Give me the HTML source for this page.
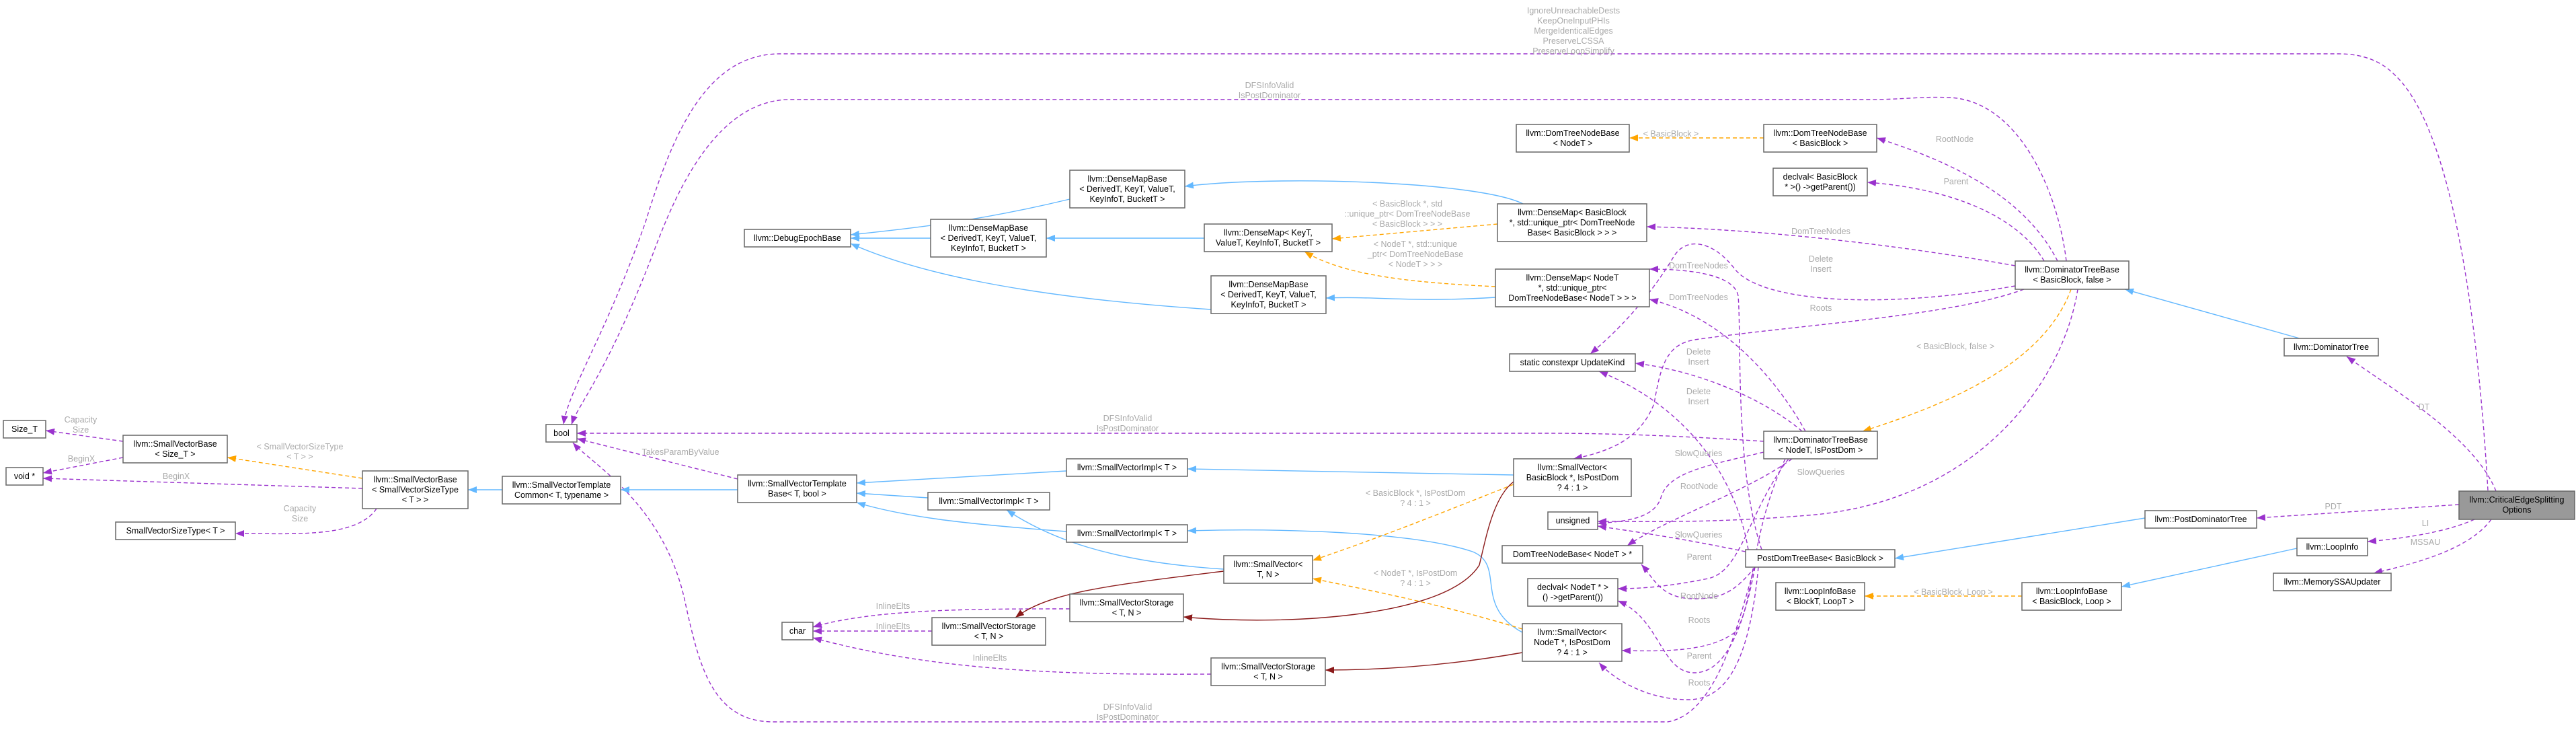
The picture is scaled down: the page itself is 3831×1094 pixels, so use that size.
<!DOCTYPE html>
<html><head><meta charset="utf-8"><style>
html,body{margin:0;padding:0;background:#fff;}
svg{display:block;}
text{font-family:"Liberation Sans",Arial,sans-serif;font-size:12.5px;}
.n rect{fill:#fff;stroke:#666;stroke-width:1.5;}
.n text{fill:#000;text-anchor:middle;}
.l{fill:#aaa;text-anchor:middle;}
.p{fill:none;stroke:#9a32cd;stroke-width:1.4;stroke-dasharray:6,4;}
.b{fill:none;stroke:#63b8ff;stroke-width:1.4;}
.o{fill:none;stroke:#ffa500;stroke-width:1.4;stroke-dasharray:6,4;}
.r{fill:none;stroke:#8b1a1a;stroke-width:1.4;}
</style></head><body>
<svg width="3831" height="1094" viewBox="0 0 3831 1094" xmlns="http://www.w3.org/2000/svg">
<defs>
<marker id="mp" markerUnits="userSpaceOnUse" markerWidth="14" markerHeight="12" refX="13" refY="5" orient="auto"><path d="M0,0 L13,5 L0,10 z" fill="#9a32cd"/></marker>
<marker id="mb" markerUnits="userSpaceOnUse" markerWidth="14" markerHeight="12" refX="13" refY="5" orient="auto"><path d="M0,0 L13,5 L0,10 z" fill="#63b8ff"/></marker>
<marker id="mo" markerUnits="userSpaceOnUse" markerWidth="14" markerHeight="12" refX="13" refY="5" orient="auto"><path d="M0,0 L13,5 L0,10 z" fill="#ffa500"/></marker>
<marker id="mr" markerUnits="userSpaceOnUse" markerWidth="14" markerHeight="12" refX="13" refY="5" orient="auto"><path d="M0,0 L13,5 L0,10 z" fill="#8b1a1a"/></marker>
</defs>

<!-- purple edges -->
<g marker-end="url(#mp)">
<path class="p" d="M3700,729 C3690,560 3660,200 3560,110 Q3530,80 3478,80 L1160,80 C1050,80 1000,200 960,330 C900,500 845,580 838,631"/>
<path class="p" d="M3073,388 C3060,280 3000,150 2900,145 C2860,143 2830,148 2780,148 L1175,148 C1060,148 1000,300 970,380 C900,560 860,600 850,631"/>
<path class="p" d="M2623,656 C2500,648 2400,644 2300,644 L858,644"/>
<path class="p" d="M2610,843 C2590,900 2560,1060 2480,1073 L1150,1073 C1060,1073 1040,990 1020,900 C990,750 880,690 852,658"/>
<path class="p" d="M1097,712 L858,652"/>
<path class="p" d="M183,656 L68,640"/>
<path class="p" d="M183,680 L64,703"/>
<path class="p" d="M539,726 L64,711"/>
<path class="p" d="M560,756 C530,800 440,793 350,793"/>
<path class="p" d="M1591,905 C1450,905 1300,905 1209,932"/>
<path class="p" d="M1386,938 L1209,938"/>
<path class="p" d="M1801,1002 C1600,1003 1400,1000 1209,948"/>
<path class="p" d="M3060,388 C3010,290 2900,240 2791,205"/>
<path class="p" d="M3040,388 C3000,320 2900,280 2777,271"/>
<path class="p" d="M2997,395 C2800,360 2600,340 2449,337"/>
<path class="p" d="M2997,425 C2800,460 2620,450 2580,400 C2550,360 2510,350 2490,380 C2460,430 2420,480 2365,526"/>
<path class="p" d="M3010,430 C2900,470 2700,480 2520,505 C2480,512 2470,540 2460,600 C2440,650 2400,670 2340,682"/>
<path class="p" d="M3090,430 C3070,560 2950,740 2700,765 C2550,778 2450,775 2376,775"/>
<path class="p" d="M2685,641 C2640,560 2560,470 2453,445"/>
<path class="p" d="M2620,817 C2580,700 2590,500 2585,440 C2580,410 2520,400 2453,400"/>
<path class="p" d="M2680,641 C2620,590 2520,550 2432,540"/>
<path class="p" d="M2600,817 C2580,700 2500,600 2378,552"/>
<path class="p" d="M2623,672 C2550,690 2480,700 2470,740 C2460,770 2420,775 2376,778"/>
<path class="p" d="M2665,682 C2600,730 2480,770 2420,811"/>
<path class="p" d="M2660,682 C2600,760 2590,850 2540,860 C2490,870 2450,875 2406,875"/>
<path class="p" d="M2655,682 C2600,800 2610,900 2580,940 C2540,970 2470,968 2412,967"/>
<path class="p" d="M2596,820 C2500,800 2430,790 2376,782"/>
<path class="p" d="M2610,843 C2580,880 2560,890 2520,890 C2470,890 2460,860 2441,839"/>
<path class="p" d="M2610,843 C2590,950 2560,1000 2520,1000 C2470,1000 2470,920 2406,893"/>
<path class="p" d="M2615,843 C2600,1000 2560,1040 2510,1040 C2450,1040 2400,1010 2378,985"/>
<path class="p" d="M3712,730 C3680,650 3560,580 3490,530"/>
<path class="p" d="M3657,750 L3356,770"/>
<path class="p" d="M3680,772 C3640,790 3580,800 3521,805"/>
<path class="p" d="M3705,772 C3670,820 3580,840 3530,852"/>
</g>

<!-- blue edges -->
<g marker-end="url(#mb)">
<path class="b" d="M1591,296 C1450,330 1350,340 1265,349"/>
<path class="b" d="M1384,354 L1265,354"/>
<path class="b" d="M1801,460 C1500,440 1350,400 1265,362"/>
<path class="b" d="M2265,303 C2200,270 1900,260 1762,277"/>
<path class="b" d="M1791,354 L1556,354"/>
<path class="b" d="M2224,442 C2100,450 2050,440 1972,443"/>
<path class="b" d="M747,728 L696,728"/>
<path class="b" d="M1097,728 L923,728"/>
<path class="b" d="M1586,700 L1274,718"/>
<path class="b" d="M1380,740 L1274,733"/>
<path class="b" d="M1586,790 C1450,780 1350,770 1274,747"/>
<path class="b" d="M1820,846 C1650,835 1560,800 1497,758"/>
<path class="b" d="M2251,706 L1766,697"/>
<path class="b" d="M2264,940 C2190,900 2240,840 2190,820 C2100,790 1900,785 1766,789"/>
<path class="b" d="M3420,503 L3160,430"/>
<path class="b" d="M3190,770 L2818,830"/>
<path class="b" d="M3416,815 L3155,872"/>
</g>

<!-- orange edges -->
<g marker-end="url(#mo)">
<path class="o" d="M2623,205 L2423,205"/>
<path class="o" d="M2227,333 L1981,355"/>
<path class="o" d="M2224,426 C2100,420 2000,410 1940,374"/>
<path class="o" d="M3080,430 C3040,540 2900,600 2770,641"/>
<path class="o" d="M539,711 L338,680"/>
<path class="o" d="M2251,720 C2150,760 2050,800 1952,833"/>
<path class="o" d="M2264,935 C2150,900 2050,880 1952,860"/>
<path class="o" d="M3007,886 L2773,886"/>
</g>

<!-- dark red edges -->
<g marker-end="url(#mr)">
<path class="r" d="M1820,849 C1650,870 1560,880 1510,918"/>
<path class="r" d="M2251,716 C2220,740 2210,800 2200,840 C2150,920 1900,930 1760,917"/>
<path class="r" d="M2264,970 C2150,990 2050,996 1971,996"/>
</g>

<!-- edge labels -->
<g class="l">
<text x="2340" y="20">IgnoreUnreachableDests</text>
<text x="2340" y="35">KeepOneInputPHIs</text>
<text x="2340" y="50">MergeIdenticalEdges</text>
<text x="2340" y="65">PreserveLCSSA</text>
<text x="2340" y="80">PreserveLoopSimplify</text>
<text x="1888" y="131">DFSInfoValid</text>
<text x="1888" y="146">IsPostDominator</text>
<text x="1677" y="626">DFSInfoValid</text>
<text x="1677" y="641">IsPostDominator</text>
<text x="1677" y="1055">DFSInfoValid</text>
<text x="1677" y="1070">IsPostDominator</text>
<text x="1012" y="676">TakesParamByValue</text>
<text x="120" y="628">Capacity</text>
<text x="120" y="643">Size</text>
<text x="121" y="686">BeginX</text>
<text x="262" y="712">BeginX</text>
<text x="446" y="760">Capacity</text>
<text x="446" y="775">Size</text>
<text x="446" y="668">&lt; SmallVectorSizeType</text>
<text x="446" y="683">&lt; T &gt; &gt;</text>
<text x="1328" y="905">InlineElts</text>
<text x="1328" y="935">InlineElts</text>
<text x="1472" y="982">InlineElts</text>
<text x="2907" y="211">RootNode</text>
<text x="2909" y="274">Parent</text>
<text x="2708" y="348">DomTreeNodes</text>
<text x="2708" y="389">Delete</text>
<text x="2708" y="404">Insert</text>
<text x="2708" y="462">Roots</text>
<text x="2908" y="519">&lt; BasicBlock, false &gt;</text>
<text x="2526" y="399">DomTreeNodes</text>
<text x="2526" y="446">DomTreeNodes</text>
<text x="2526" y="527">Delete</text>
<text x="2526" y="542">Insert</text>
<text x="2526" y="586">Delete</text>
<text x="2526" y="601">Insert</text>
<text x="2526" y="678">SlowQueries</text>
<text x="2708" y="706">SlowQueries</text>
<text x="2527" y="727">RootNode</text>
<text x="2526" y="799">SlowQueries</text>
<text x="2527" y="832">Parent</text>
<text x="2527" y="890">RootNode</text>
<text x="2527" y="926">Roots</text>
<text x="2527" y="979">Parent</text>
<text x="2527" y="1019">Roots</text>
<text x="2485" y="203">&lt; BasicBlock &gt;</text>
<text x="2093" y="307">&lt; BasicBlock *, std</text>
<text x="2093" y="322">::unique_ptr&lt; DomTreeNodeBase</text>
<text x="2093" y="337">&lt; BasicBlock &gt; &gt; &gt;</text>
<text x="2105" y="367">&lt; NodeT *, std::unique</text>
<text x="2105" y="382">_ptr&lt; DomTreeNodeBase</text>
<text x="2105" y="397">&lt; NodeT &gt; &gt; &gt;</text>
<text x="2105" y="737">&lt; BasicBlock *, IsPostDom</text>
<text x="2105" y="752">? 4 : 1 &gt;</text>
<text x="2105" y="856">&lt; NodeT *, IsPostDom</text>
<text x="2105" y="871">? 4 : 1 &gt;</text>
<text x="2905" y="884">&lt; BasicBlock, Loop &gt;</text>
<text x="3605" y="609">DT</text>
<text x="3470" y="757">PDT</text>
<text x="3607" y="782">LI</text>
<text x="3607" y="810">MSSAU</text>
</g>

<!-- nodes -->
<g class="n">
<rect x="5" y="625" width="63" height="26"/><text x="36.5" y="642">Size_T</text>
<rect x="183" y="647" width="155" height="41"/><text x="260.5" y="664">llvm::SmallVectorBase</text><text x="260.5" y="679">&lt; Size_T &gt;</text>
<rect x="9" y="695" width="55" height="26"/><text x="36.5" y="712">void *</text>
<rect x="539" y="700" width="157" height="56"/><text x="617.5" y="717">llvm::SmallVectorBase</text><text x="617.5" y="732">&lt; SmallVectorSizeType</text><text x="617.5" y="747">&lt; T &gt; &gt;</text>
<rect x="172" y="776" width="178" height="26"/><text x="261" y="793">SmallVectorSizeType&lt; T &gt;</text>
<rect x="747" y="708" width="176" height="41"/><text x="835" y="725">llvm::SmallVectorTemplate</text><text x="835" y="740">Common&lt; T, typename &gt;</text>
<rect x="1097" y="706" width="177" height="41"/><text x="1185.5" y="723">llvm::SmallVectorTemplate</text><text x="1185.5" y="738">Base&lt; T, bool &gt;</text>
<rect x="812" y="631" width="46" height="26"/><text x="835" y="648">bool</text>
<rect x="1163" y="925" width="46" height="26"/><text x="1186" y="942">char</text>
<rect x="1586" y="682" width="180" height="26"/><text x="1676" y="699">llvm::SmallVectorImpl&lt; T &gt;</text>
<rect x="1380" y="732" width="181" height="26"/><text x="1470.5" y="749">llvm::SmallVectorImpl&lt; T &gt;</text>
<rect x="1586" y="780" width="180" height="26"/><text x="1676" y="797">llvm::SmallVectorImpl&lt; T &gt;</text>
<rect x="1820" y="826" width="132" height="41"/><text x="1886" y="843">llvm::SmallVector&lt;</text><text x="1886" y="858">T, N &gt;</text>
<rect x="1591" y="883" width="169" height="41"/><text x="1675.5" y="900">llvm::SmallVectorStorage</text><text x="1675.5" y="915">&lt; T, N &gt;</text>
<rect x="1386" y="918" width="169" height="41"/><text x="1470.5" y="935">llvm::SmallVectorStorage</text><text x="1470.5" y="950">&lt; T, N &gt;</text>
<rect x="1801" y="978" width="170" height="41"/><text x="1886" y="995">llvm::SmallVectorStorage</text><text x="1886" y="1010">&lt; T, N &gt;</text>
<rect x="1107" y="341" width="158" height="26"/><text x="1186" y="358">llvm::DebugEpochBase</text>
<rect x="1591" y="253" width="171" height="56"/><text x="1676.5" y="270">llvm::DenseMapBase</text><text x="1676.5" y="285">&lt; DerivedT, KeyT, ValueT,</text><text x="1676.5" y="300">KeyInfoT, BucketT &gt;</text>
<rect x="1384" y="326" width="172" height="56"/><text x="1470" y="343">llvm::DenseMapBase</text><text x="1470" y="358">&lt; DerivedT, KeyT, ValueT,</text><text x="1470" y="373">KeyInfoT, BucketT &gt;</text>
<rect x="1801" y="410" width="171" height="56"/><text x="1886.5" y="427">llvm::DenseMapBase</text><text x="1886.5" y="442">&lt; DerivedT, KeyT, ValueT,</text><text x="1886.5" y="457">KeyInfoT, BucketT &gt;</text>
<rect x="1791" y="333" width="190" height="41"/><text x="1886" y="350">llvm::DenseMap&lt; KeyT,</text><text x="1886" y="365">ValueT, KeyInfoT, BucketT &gt;</text>
<rect x="2227" y="303" width="222" height="56"/><text x="2338" y="320">llvm::DenseMap&lt; BasicBlock</text><text x="2338" y="335"> *, std::unique_ptr&lt; DomTreeNode</text><text x="2338" y="350">Base&lt; BasicBlock &gt; &gt; &gt;</text>
<rect x="2224" y="400" width="229" height="56"/><text x="2338.5" y="417">llvm::DenseMap&lt; NodeT</text><text x="2338.5" y="432"> *, std::unique_ptr&lt;</text><text x="2338.5" y="447">DomTreeNodeBase&lt; NodeT &gt; &gt; &gt;</text>
<rect x="2255" y="185" width="168" height="41"/><text x="2339" y="202">llvm::DomTreeNodeBase</text><text x="2339" y="217">&lt; NodeT &gt;</text>
<rect x="2623" y="185" width="168" height="41"/><text x="2707" y="202">llvm::DomTreeNodeBase</text><text x="2707" y="217">&lt; BasicBlock &gt;</text>
<rect x="2637" y="250" width="140" height="41"/><text x="2707" y="267">declval&lt; BasicBlock</text><text x="2707" y="282"> * &gt;() -&gt;getParent())</text>
<rect x="2997" y="388" width="169" height="42"/><text x="3081.5" y="405">llvm::DominatorTreeBase</text><text x="3081.5" y="420">&lt; BasicBlock, false &gt;</text>
<rect x="3397" y="503" width="140" height="26"/><text x="3467" y="520">llvm::DominatorTree</text>
<rect x="2245" y="526" width="187" height="26"/><text x="2338.5" y="543">static constexpr UpdateKind</text>
<rect x="2623" y="641" width="169" height="41"/><text x="2707.5" y="658">llvm::DominatorTreeBase</text><text x="2707.5" y="673">&lt; NodeT, IsPostDom &gt;</text>
<rect x="2251" y="682" width="175" height="56"/><text x="2338.5" y="699">llvm::SmallVector&lt;</text><text x="2338.5" y="714">BasicBlock *, IsPostDom</text><text x="2338.5" y="729">? 4 : 1 &gt;</text>
<rect x="2302" y="761" width="74" height="26"/><text x="2339" y="778">unsigned</text>
<rect x="2234" y="811" width="209" height="26"/><text x="2338.5" y="828">DomTreeNodeBase&lt; NodeT &gt; *</text>
<rect x="2272" y="860" width="134" height="41"/><text x="2339" y="877">declval&lt; NodeT * &gt;</text><text x="2339" y="892">() -&gt;getParent())</text>
<rect x="2264" y="927" width="148" height="56"/><text x="2338" y="944">llvm::SmallVector&lt;</text><text x="2338" y="959">NodeT *, IsPostDom</text><text x="2338" y="974">? 4 : 1 &gt;</text>
<rect x="2596" y="817" width="222" height="26"/><text x="2707" y="834">PostDomTreeBase&lt; BasicBlock &gt;</text>
<rect x="2641" y="866" width="132" height="41"/><text x="2707" y="883">llvm::LoopInfoBase</text><text x="2707" y="898">&lt; BlockT, LoopT &gt;</text>
<rect x="3007" y="866" width="148" height="41"/><text x="3081" y="883">llvm::LoopInfoBase</text><text x="3081" y="898">&lt; BasicBlock, Loop &gt;</text>
<rect x="3190" y="759" width="166" height="26"/><text x="3273" y="776">llvm::PostDominatorTree</text>
<rect x="3416" y="800" width="105" height="26"/><text x="3468.5" y="817">llvm::LoopInfo</text>
<rect x="3381" y="852" width="175" height="26"/><text x="3468.5" y="869">llvm::MemorySSAUpdater</text>
<rect x="3657" y="730" width="172" height="42" style="fill:#999"/><text x="3743" y="747">llvm::CriticalEdgeSplitting</text><text x="3743" y="762">Options</text>
</g>
</svg>
</body></html>
